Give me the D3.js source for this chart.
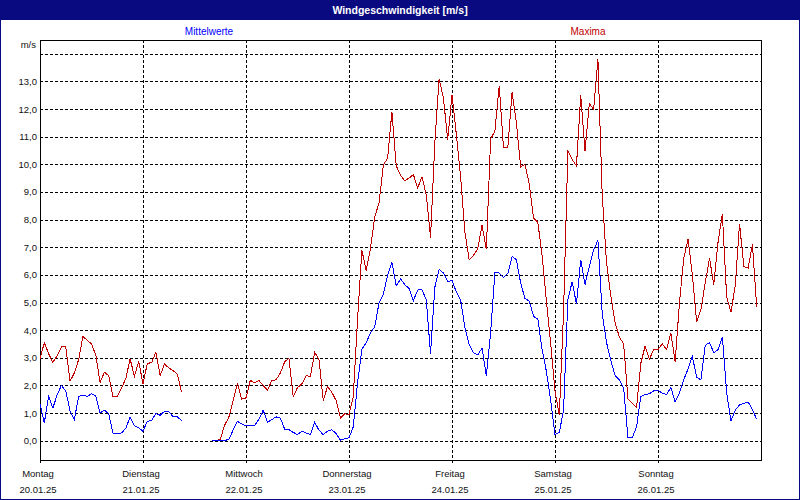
<!DOCTYPE html>
<html><head><meta charset="utf-8">
<script src="https://cdn.jsdelivr.net/npm/d3@7"></script>
<style>body{margin:0;background:#fff}svg{display:block}text{font-family:"Liberation Sans",Arial,sans-serif}</style>
</head><body><svg id="c" width="800" height="500"></svg>
<script>
const title = "Windgeschwindigkeit [m/s]";
const unitLabel = "m/s";
const seriesNames = ["Mittelwerte", "Maxima"];
const dayNames = ["Montag","Dienstag","Mittwoch","Donnerstag","Freitag","Samstag","Sonntag"];
const dayDates = ["20.01.25","21.01.25","22.01.25","23.01.25","24.01.25","25.01.25","26.01.25"];
const yTicks = [0,1,2,3,4,5,6,7,8,9,10,11,12,13];
const yGrid = [0,1,2,3,4,5,6,7,8,9,10,11,12,13,14];
// hourly values, hour 0 = Mo 20.01.25 00:00 ; null = no data
const maxima = [
2.95,3.55,3.15,2.83,3.08,3.39,3.39,2.15,2.45,2.93,3.77,3.63,3.5,3.1,2.1,2.48,2.35,1.6,1.6,1.9,2.25,2.96,2.33,2.87,
2.05,2.8,2.82,3.2,2.35,2.78,2.63,2.54,2.4,1.75,null,null,null,null,null,null,0,0,0.05,0.55,0.85,1.45,2.08,1.5,
1.55,2.18,2.1,2.18,2.0,1.82,2.18,2.2,2.45,2.85,2.99,1.6,1.92,2.05,2.35,2.33,3.19,2.95,1.45,1.96,1.75,1.45,0.82,0.98,
0.94,1.6,4.4,6.9,6.15,6.95,8.1,8.6,9.97,10.23,11.9,9.95,9.6,9.41,9.5,9.63,9.14,9.55,8.9,7.35,10.8,13.1,12.4,10.9,
12.5,11.1,9.55,7.55,6.55,6.7,6.95,7.8,6.92,10.92,11.2,12.85,10.6,10.6,12.6,11.5,9.9,10.0,9.3,8.06,7.9,6.7,5.05,3.5,
1.8,0.92,4.7,10.5,10.17,9.95,12.5,10.47,12.2,11.98,13.8,8.9,6.45,5.25,4.27,3.75,3.5,1.5,1.35,1.2,2.8,3.42,2.95,3.3,
3.3,3.5,3.3,3.9,2.85,5.0,6.6,7.3,6.01,4.29,4.75,5.7,6.6,5.65,7.2,8.2,5.2,4.65,5.6,7.85,6.3,6.25,7.1,4.84];
const mittel = [
1.34,0.64,1.6,1.18,1.66,2.0,1.8,1.08,0.76,1.6,1.65,1.6,1.7,1.62,1.0,1.1,0.98,0.28,0.25,0.28,0.45,0.86,0.55,0.46,
0.34,0.7,0.73,0.98,0.92,1.06,1.06,0.86,0.86,0.73,null,null,null,null,null,null,0,0,0,0,0.05,0.38,0.7,0.61,
0.54,0.54,0.54,0.78,1.1,0.67,0.76,0.86,0.82,0.42,0.4,0.3,0.22,0.34,0.28,0.22,0.67,0.38,0.22,0.34,0.4,0.25,0.02,0.07,
0.1,0.5,2.1,3.3,3.55,3.9,4.12,4.99,5.29,6.0,6.45,5.6,5.85,5.65,5.5,5.07,5.45,5.47,5.1,3.15,5.55,6.2,6.07,5.75,
5.8,5.38,5.1,4.1,3.48,3.18,3.1,3.35,2.35,3.9,6.1,6.07,5.9,6.05,6.67,6.55,5.7,5.15,5.05,4.5,4.4,3.3,2.5,1.45,
0.23,0.3,1.1,5.11,5.75,4.95,6.55,5.65,6.3,6.9,7.25,4.6,3.56,2.9,2.36,2.2,1.9,0.11,0.1,0.5,1.6,1.67,1.7,1.8,
1.82,1.72,1.67,1.92,1.4,1.73,2.2,2.6,3.05,2.3,2.2,3.45,3.55,3.18,3.3,3.75,1.73,0.71,1.1,1.3,1.35,1.4,1.13,0.77];

const svg = d3.select("#c");
const W = 800, H = 500;
const plot = {l:40, t:40, r:761, b:460};
const navy = "#0a0a80", red = "#c00000", blue = "#0000ff";

// window frame + title bar
svg.append("rect").attr("x",0).attr("y",0).attr("width",W).attr("height",H).attr("fill","#fff");
svg.append("rect").attr("x",0.5).attr("y",0.5).attr("width",W-1).attr("height",H-1)
  .attr("fill","none").attr("stroke",navy).attr("stroke-width",1).attr("shape-rendering","crispEdges");
svg.append("rect").attr("x",0).attr("y",0).attr("width",W).attr("height",20).attr("fill",navy);
svg.append("text").attr("x",W/2).attr("y",14).attr("text-anchor","middle")
  .attr("fill","#fff").attr("font-weight","bold").attr("font-size","10.5px").text(title);

// scales
const x = d3.scaleLinear().domain([0, 168]).range([plot.l, plot.r]);
const y = d3.scaleLinear().domain([-0.7, 14.5]).range([plot.b, plot.t]);

// legend
svg.append("text").attr("x",209).attr("y",35).attr("text-anchor","middle").attr("fill",blue)
  .attr("font-size","10px").text(seriesNames[0]);
svg.append("text").attr("x",588).attr("y",35).attr("text-anchor","middle").attr("fill",red)
  .attr("font-size","10px").text(seriesNames[1]);

const dash = "3,2";
// horizontal grid
svg.append("g").selectAll("line").data(yGrid).join("line")
  .attr("x1",plot.l).attr("x2",plot.r)
  .attr("y1",d=>Math.round(y(d))+0.5).attr("y2",d=>Math.round(y(d))+0.5)
  .attr("stroke","#000").attr("stroke-dasharray",dash).attr("shape-rendering","crispEdges");
// vertical grid (day boundaries)
const dayIdx = d3.range(dayNames.length);
svg.append("g").selectAll("line").data(dayIdx.slice(1)).join("line")
  .attr("x1",d=>Math.round(x(d*24))+0.5).attr("x2",d=>Math.round(x(d*24))+0.5)
  .attr("y1",plot.t).attr("y2",plot.b+3)
  .attr("stroke","#000").attr("stroke-dasharray",dash).attr("shape-rendering","crispEdges");
svg.append("line").attr("x1",plot.l+0.5).attr("x2",plot.l+0.5).attr("y1",plot.b).attr("y2",plot.b+3)
  .attr("stroke","#000").attr("shape-rendering","crispEdges");

// frame
svg.append("rect").attr("x",plot.l+0.5).attr("y",plot.t+0.5)
  .attr("width",plot.r-plot.l).attr("height",plot.b-plot.t)
  .attr("fill","none").attr("stroke","#000").attr("shape-rendering","crispEdges");

// y tick labels
svg.append("g").selectAll("text").data(yTicks).join("text")
  .attr("x",37).attr("y",d=>y(d)+3.5).attr("text-anchor","end")
  .attr("font-size","9.5px").attr("fill","#111").text(d=>d3.format(".1f")(d).replace(".",","));
svg.append("text").attr("x",36).attr("y",48).attr("text-anchor","end").attr("font-size","9.5px")
  .attr("fill","#111").text(unitLabel);

// x labels
svg.append("g").selectAll("text").data(dayIdx).join("text")
  .attr("x",d=>x(d*24)-2).attr("y",477).attr("text-anchor","middle").attr("font-size","9.5px")
  .attr("fill","#111").text(d=>dayNames[d]);
svg.append("g").selectAll("text").data(dayIdx).join("text")
  .attr("x",d=>x(d*24)-2).attr("y",493).attr("text-anchor","middle").attr("font-size","9.5px")
  .attr("fill","#111").text(d=>dayDates[d]);

// lines
const line = d3.line().defined(d=>d!=null).x((d,i)=>x(i)).y(d=>y(d));
svg.append("path").datum(maxima).attr("d",line).attr("fill","none").attr("stroke",red)
  .attr("stroke-width",1).attr("shape-rendering","crispEdges");
svg.append("path").datum(mittel).attr("d",line).attr("fill","none").attr("stroke",blue)
  .attr("stroke-width",1).attr("shape-rendering","crispEdges");
</script></body></html>
